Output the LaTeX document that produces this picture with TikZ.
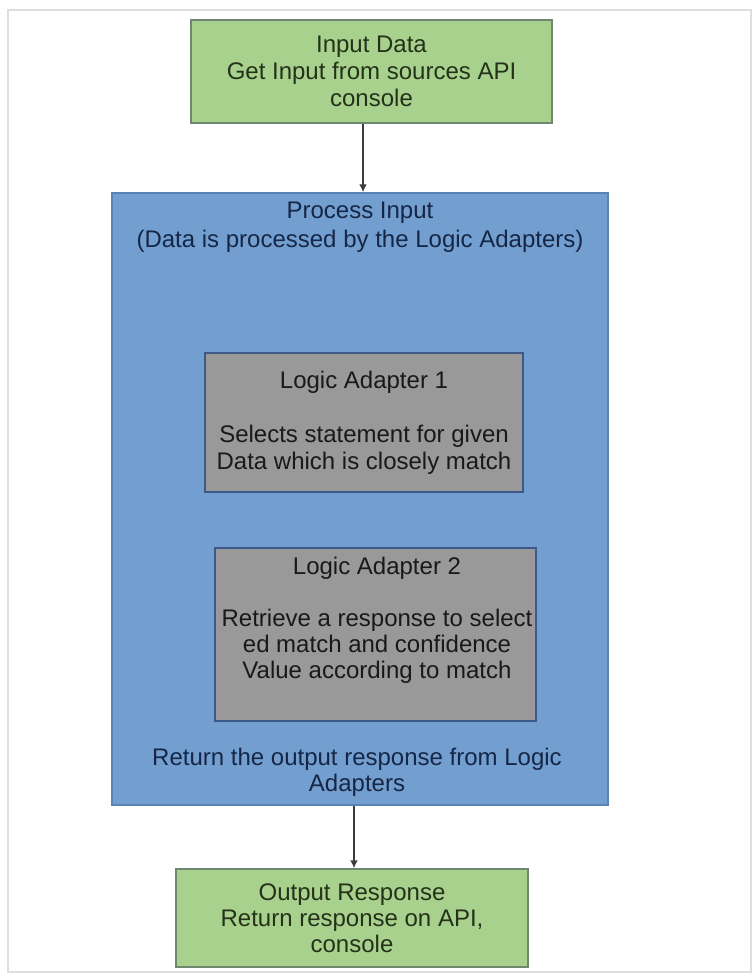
\documentclass[tikz,border=0pt]{standalone}
\usepackage{fontspec}
\setmainfont{Liberation Sans}
\usetikzlibrary{arrows.meta}
\definecolor{greenfill}{RGB}{169,209,142}
\definecolor{greenline}{RGB}{110,135,110}
\definecolor{greentext}{RGB}{35,50,25}
\definecolor{bluefill}{RGB}{114,159,207}
\definecolor{blueline}{RGB}{90,130,180}
\definecolor{bluetext}{RGB}{22,38,70}
\definecolor{greyfill}{RGB}{153,153,153}
\definecolor{greyline}{RGB}{60,90,135}
\definecolor{greytext}{RGB}{25,25,25}
\definecolor{arrowcol}{RGB}{60,60,60}
\definecolor{framecol}{RGB}{222,222,222}
\begin{document}
\begin{tikzpicture}[x=1pt,y=-1pt,
  every node/.style={font=\fontsize{24}{27}\selectfont, align=center, inner sep=0pt},
  greenbox/.style={draw=greenline, line width=1.5pt, fill=greenfill, text=greentext},
  bluebox/.style={draw=blueline, line width=1.5pt, fill=bluefill},
  greybox/.style={draw=greyline, line width=1.5pt, fill=greyfill, text=greytext},
  bluelabel/.style={text=bluetext},
  greylabel/.style={text=greytext},
  flow/.style={draw=arrowcol, line width=2pt, -{Latex[length=8pt,width=8pt]}}
]
\useasboundingbox (0,0) rectangle (755,977);
\draw[framecol, line width=1.5pt] (8,10) rectangle (751,972);

\node[greenbox, minimum width=361pt, minimum height=103pt] (in) at (371.5,71.5)
  {Input Data\\Get Input from sources API\\console};

\node[bluebox, minimum width=496pt, minimum height=612pt] (proc) at (360,499) {};
\node[bluelabel, font=\fontsize{24}{29}\selectfont] (proct) at (360,227)
  {Process Input\\(Data is processed by the Logic Adapters)};
\node[bluelabel, font=\fontsize{24}{26}\selectfont] (procb) at (357,772)
  {Return the output response from Logic\\Adapters};

\node[greybox, minimum width=318pt, minimum height=139pt] (la1) at (364,422.5)
  {Logic Adapter 1\\[27pt]Selects statement for given\\Data which is closely match};

\node[greybox, minimum width=321pt, minimum height=173pt] (la2) at (375.5,634.5) {};
\node[greylabel, font=\fontsize{24}{26}\selectfont] (la2t) at (377,620)
  {Logic Adapter 2\\[26pt]Retrieve a response to select\\ed match and confidence\\Value according to match};

\node[greenbox, minimum width=352pt, minimum height=98pt, font=\fontsize{24}{26}\selectfont] (out) at (352,918)
  {Output Response\\Return response on API,\\console};

\coordinate (a1) at (363,0);
\coordinate (a2) at (354,0);
\draw[flow] (in.south -| a1) -- (proc.north -| a1);
\draw[flow] (proc.south -| a2) -- (out.north -| a2);
\end{tikzpicture}
\end{document}
